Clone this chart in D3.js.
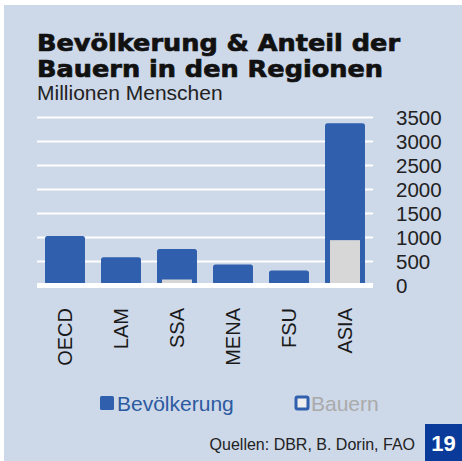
<!DOCTYPE html>
<html>
<head>
<meta charset="utf-8">
<script src="https://cdn.jsdelivr.net/npm/d3@7"></script>
<style>
  body { margin: 0; background: #ffffff; }
  text { font-family: "Liberation Sans", Arial, sans-serif; }
</style>
</head>
<body>
<div id="chart"></div>
<script>
// Regions and values (million people)
const regions = ['OECD', 'LAM', 'SSA', 'MENA', 'FSU', 'ASIA'];
const population = [1030, 590, 760, 440, 310, 3380];
const farmers = [0, 0, 125, 0, 0, 945];
const yTicks = [0, 500, 1000, 1500, 2000, 2500, 3000, 3500];

const width = 462, height = 461;
const plot = {left: 37, right: 373, top: 117.5, bottom: 285.5};

const svg = d3.select('#chart').append('svg')
  .attr('width', width).attr('height', height);

// panel background
svg.append('rect').attr('x', 4).attr('y', 5)
  .attr('width', width - 4).attr('height', height - 5)
  .attr('fill', '#cdd8e9');

// titles
const title = svg.append('text')
  .style('font-family', '"DejaVu Sans", sans-serif')
  .style('font-weight', 'bold').style('font-size', '23px')
  .attr('fill', '#111').attr('stroke', '#111').attr('stroke-width', 0.7);
title.append('tspan').attr('x', 37).attr('y', 51).text('Bevölkerung & Anteil der')
  .attr('textLength', 363).attr('lengthAdjust', 'spacingAndGlyphs');
title.append('tspan').attr('x', 37).attr('y', 77).text('Bauern in den Regionen')
  .attr('textLength', 346).attr('lengthAdjust', 'spacingAndGlyphs');

svg.append('text').attr('x', 37).attr('y', 100)
  .style('font-size', '21px').attr('fill', '#222')
  .text('Millionen Menschen');

// scales
const x = d3.scaleBand().domain(regions)
  .range([plot.left, plot.right]).paddingInner(0.286).paddingOuter(0.143);
const y = d3.scaleLinear().domain([0, 3500]).range([plot.bottom, plot.top]);

// gridlines
svg.append('g').selectAll('line')
  .data(yTicks.filter(d => d > 0))
  .enter().append('line')
  .attr('x1', plot.left).attr('x2', plot.right)
  .attr('y1', d => y(d)).attr('y2', d => y(d))
  .attr('stroke', '#ffffff').attr('stroke-width', 2.2);

// y axis on the right
const yAxis = svg.append('g')
  .attr('transform', `translate(${plot.right},0)`)
  .call(d3.axisRight(y).tickValues(yTicks).tickFormat(d3.format('d'))
    .tickSize(0).tickPadding(23));
yAxis.select('.domain').remove();
yAxis.selectAll('text')
  .style('font-family', '"Liberation Sans", Arial, sans-serif')
  .style('font-size', '20.5px').attr('fill', '#222');

// bars
const r = 2.5;
svg.append('g').selectAll('rect')
  .data(regions)
  .enter().append('rect')
  .attr('x', d => x(d))
  .attr('width', x.bandwidth())
  .attr('y', (d, i) => y(population[i]))
  .attr('height', (d, i) => y(0) - y(population[i]) + r)
  .attr('rx', r).attr('ry', r)
  .attr('fill', '#3060ad');

// farmers (inner bars)
const inset = 5;
svg.append('g').selectAll('rect')
  .data(regions.filter((d, i) => farmers[i] > 0))
  .enter().append('rect')
  .attr('x', d => x(d) + inset)
  .attr('width', x.bandwidth() - 2 * inset)
  .attr('y', d => y(farmers[regions.indexOf(d)]))
  .attr('height', d => y(0) - y(farmers[regions.indexOf(d)]))
  .attr('fill', '#d7d7d7');

// baseline
svg.append('rect')
  .attr('x', plot.left).attr('y', y(0) - 2.5)
  .attr('width', plot.right - plot.left).attr('height', 5)
  .attr('fill', '#ffffff');

// x labels (rotated)
svg.append('g').selectAll('text')
  .data(regions)
  .enter().append('text')
  .attr('transform', d => `translate(${x(d) + x.bandwidth() / 2 + 7},308) rotate(-90)`)
  .attr('text-anchor', 'end')
  .style('font-size', '20px').attr('fill', '#1a1a1a')
  .text(d => d);

// legend
svg.append('rect').attr('x', 100).attr('y', 396)
  .attr('width', 14).attr('height', 14).attr('rx', 1.5)
  .attr('fill', '#3060ad');
svg.append('text').attr('x', 117).attr('y', 411)
  .style('font-size', '21px').attr('fill', '#2c5aa0')
  .text('Bevölkerung');
svg.append('rect').attr('x', 296).attr('y', 397)
  .attr('width', 12).attr('height', 12).attr('rx', 1.5)
  .attr('fill', '#eeeeee').attr('stroke', '#3060ad').attr('stroke-width', 3);
svg.append('text').attr('x', 311).attr('y', 411)
  .style('font-size', '21px').attr('fill', '#aaaaaa')
  .text('Bauern');

// footer
svg.append('text').attr('x', 415).attr('y', 450)
  .attr('text-anchor', 'end')
  .style('font-size', '16px').attr('fill', '#222')
  .text('Quellen: DBR, B. Dorin, FAO');
svg.append('rect').attr('x', 425).attr('y', 424)
  .attr('width', 37).attr('height', 37).attr('fill', '#0a3b9a');
svg.append('text').attr('x', 443.5).attr('y', 451)
  .attr('text-anchor', 'middle')
  .style('font-size', '22px').style('font-weight', 'bold').attr('fill', '#ffffff')
  .text('19');
</script>
</body>
</html>
